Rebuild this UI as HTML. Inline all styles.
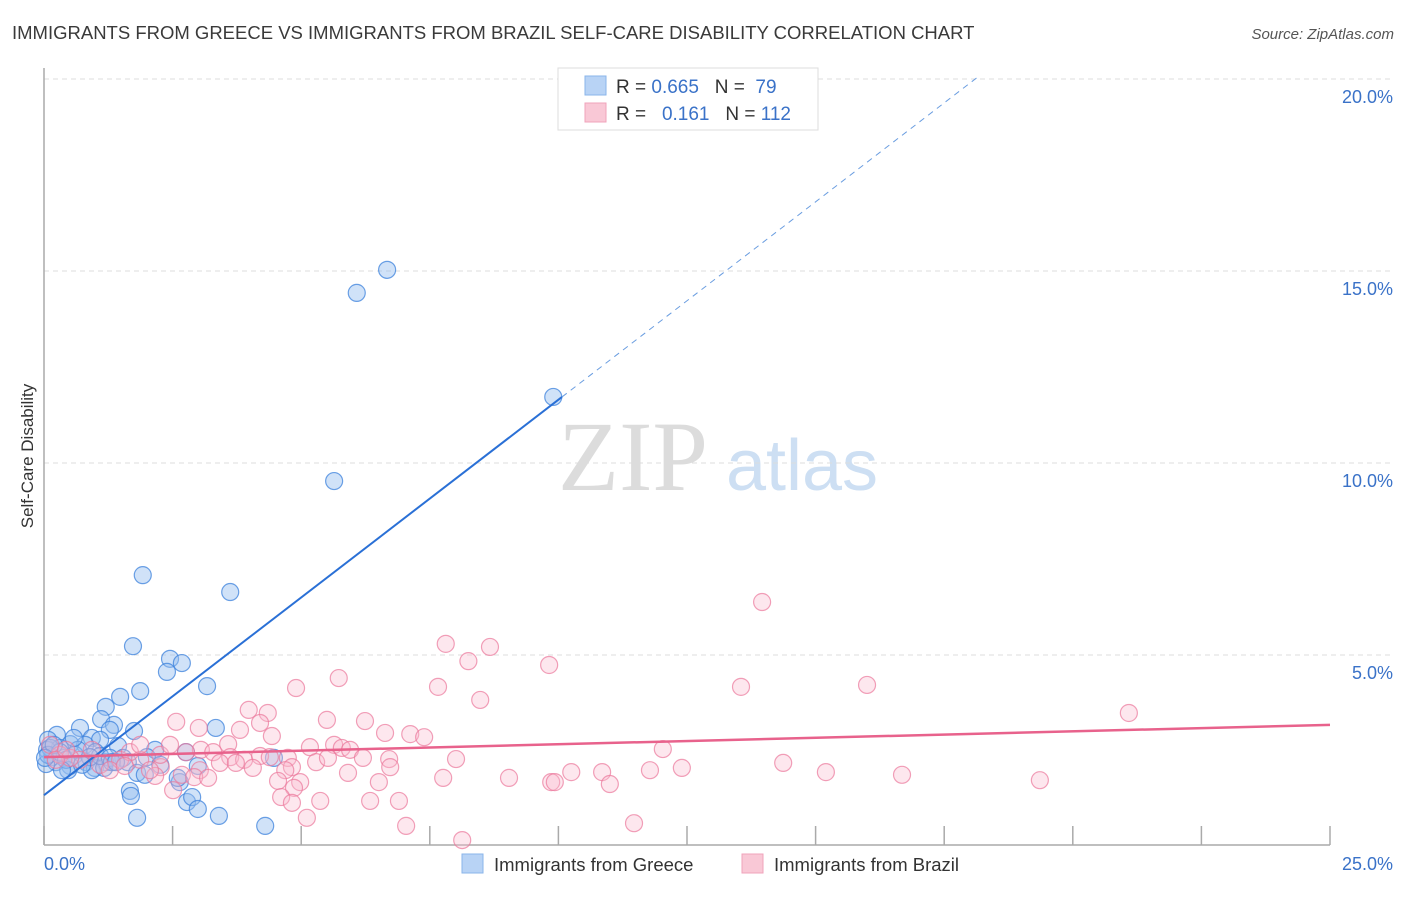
<!DOCTYPE html>
<html><head><meta charset="utf-8"><style>
body{margin:0;background:#fff;width:1406px;height:892px;overflow:hidden;font-family:"Liberation Sans",sans-serif}
</style></head><body>
<svg id="chart" width="1406" height="892" xmlns="http://www.w3.org/2000/svg" font-family="Liberation Sans, sans-serif">
<text x="12" y="39" font-size="18.5" fill="#3a3a3a">IMMIGRANTS FROM GREECE VS IMMIGRANTS FROM BRAZIL SELF-CARE DISABILITY CORRELATION CHART</text>
<text x="1394" y="39" font-size="15" fill="#555" font-style="italic" text-anchor="end">Source: ZipAtlas.com</text>
<g>
<text x="633" y="490" font-size="100" fill="#dcdcdc" font-family="Liberation Serif, serif" text-anchor="middle">ZIP</text>
<text x="802" y="490" font-size="72" fill="#cddff3" text-anchor="middle">atlas</text>
</g>
<text transform="translate(33,456) rotate(-90)" font-size="17" fill="#333" text-anchor="middle">Self-Care Disability</text>
<g id="grid"></g><g id="axes"></g><g id="pts"></g><g id="lines"></g>
<g>
<rect x="558" y="68" width="260" height="62" fill="#fff" stroke="#ddd"/>
<rect x="585" y="76" width="21" height="19" fill="#b8d3f5" stroke="#8ab4ea"/>
<rect x="585" y="103" width="21" height="19" fill="#f9c8d6" stroke="#f0a3bb"/>
<text x="616" y="93" font-size="19" fill="#333" xml:space="preserve">R = <tspan fill="#3a72c8">0.665</tspan>   N =  <tspan fill="#3a72c8">79</tspan></text>
<text x="616" y="120" font-size="19" fill="#333" xml:space="preserve">R =   <tspan fill="#3a72c8">0.161</tspan>   N = <tspan fill="#3a72c8">112</tspan></text>
</g>
<g>
<rect x="462" y="854" width="21" height="19" fill="#b8d3f5" stroke="#8ab4ea"/>
<text x="494" y="871" font-size="18.5" fill="#333">Immigrants from Greece</text>
<rect x="742" y="854" width="21" height="19" fill="#f9c8d6" stroke="#f0a3bb"/>
<text x="774" y="871" font-size="18.5" fill="#333">Immigrants from Brazil</text>
</g>
</svg>
<script>
const yTicks=[5,10,15,20];
const yTickLabels=["5.0%","10.0%","15.0%","20.0%"];
const xTicks=[0,2.5,5,7.5,10,12.5,15,17.5,20,22.5,25];
const xEndLabels=["0.0%","25.0%"];
const greeceX=[6.67,6.08,9.9,5.64,1.92,3.62,1.73,2.45,2.68,2.39,1.87,3.17,1.48,1.2,1.11,1.36,0.7,1.28,1.75,0.25,0.93,1.09,0.08,0.51,0.8,1.44,0.31,0.06,1.0,2.16,3.34,2.76,0.6,0.16,0.39,1.54,4.47,2.0,0.23,0.82,1.19,1.63,0.04,2.26,2.99,0.51,0.99,0.47,0.93,1.17,1.81,1.96,2.64,2.6,1.67,1.69,2.78,2.88,2.99,1.81,3.4,4.3,0.12,0.08,0.31,0.43,0.66,0.19,1.09,1.28,0.89,0.35,0.02,0.74,1.32,1.4,0.58];
const greeceY=[15.03,14.43,11.72,9.53,7.08,6.64,5.23,4.9,4.79,4.56,4.06,4.19,3.91,3.65,3.33,3.18,3.1,3.05,3.02,2.92,2.84,2.79,2.79,2.68,2.66,2.63,2.58,2.53,2.47,2.53,3.1,2.47,2.4,2.34,2.32,2.32,2.32,2.34,2.21,2.21,2.21,2.21,2.16,2.14,2.11,2.11,2.06,2.0,2.0,2.06,1.93,1.88,1.69,1.8,1.46,1.33,1.17,1.3,0.99,0.76,0.81,0.55,2.58,2.4,2.47,2.27,2.53,2.66,2.37,2.32,2.34,2.0,2.32,2.14,2.21,2.21,2.84];
const brazilX=[13.96,7.81,8.67,8.25,9.82,16.0,13.55,4.9,7.66,5.73,8.48,21.09,3.98,4.35,2.57,5.5,6.24,4.2,3.01,6.63,7.12,7.39,4.43,3.81,3.58,5.17,5.64,5.79,5.95,12.03,3.05,3.29,2.76,3.62,3.89,4.2,4.39,4.74,5.29,5.52,6.2,6.71,8.01,14.37,3.42,3.73,4.82,6.73,12.4,11.78,3.03,2.27,4.06,4.69,5.91,10.25,10.85,15.2,16.68,2.68,2.92,3.19,7.76,9.04,19.36,6.51,9.86,9.93,11.0,4.98,4.55,4.86,2.51,4.61,4.82,5.37,6.34,6.9,5.11,7.04,11.47,8.13,2.16,1.87,1.48,1.09,0.7,0.31,0.12,0.51,0.93,1.67,1.87,2.06,2.26,0.23,1.28,2.45,1.57,0.43];
const brazilY=[6.38,5.29,5.21,4.84,4.74,4.22,4.17,4.14,4.17,4.4,3.83,3.49,3.57,3.49,3.26,3.31,3.28,3.23,3.1,2.97,2.94,2.86,2.89,3.05,2.68,2.6,2.66,2.58,2.53,2.55,2.53,2.47,2.47,2.34,2.27,2.37,2.34,2.32,2.21,2.32,2.32,2.29,2.29,2.19,2.19,2.19,2.08,2.08,2.06,2.0,2.0,2.08,2.06,2.0,1.93,1.95,1.95,1.95,1.88,1.88,1.82,1.8,1.8,1.8,1.74,1.69,1.69,1.69,1.64,1.69,1.72,1.54,1.48,1.3,1.15,1.2,1.2,1.2,0.76,0.55,0.62,0.18,1.85,2.27,2.27,2.14,2.27,2.4,2.66,2.32,2.53,2.47,2.66,2.0,2.4,2.27,2.0,2.66,2.11,2.53];
const greeceTrend=[0,1.35,10.07,11.72,18.2,20.1];
const brazilTrend=[0,2.34,25,3.18];
const NS="http://www.w3.org/2000/svg";
const X0=44,X1=1330,Y0=847,PY=38.4;
const sx=v=>X0+(X1-X0)*v/25, sy=v=>Y0-v*PY;
function mk(t,a,p){const e=document.createElementNS(NS,t);for(const k in a)e.setAttribute(k,a[k]);document.getElementById(p).appendChild(e);return e;}
yTicks.forEach((t,i)=>{
 const g=mk('line',{x1:X0,x2:1393,y1:sy(t),y2:sy(t),stroke:'#dcdcdc','stroke-dasharray':'5,4'},'grid');
 
 
 const l=mk('text',{x:1393,y:sy(t)+24,'font-size':18,fill:'#3a72c8','text-anchor':'end'},'axes');
 l.textContent=yTickLabels[i];
 
 
});
const ya=mk('line',{x1:X0,x2:X0,y1:68,y2:845,stroke:'#aaa','stroke-width':1.5},'axes');


const xa=mk('line',{x1:X0,x2:X1,y1:845,y2:845,stroke:'#aaa','stroke-width':1.5},'axes');


xTicks.forEach(t=>{
 const k=mk('line',{x1:sx(t),x2:sx(t),y1:826,y2:845,stroke:'#aaa','stroke-width':1.5},'axes');
 
 
});
const xl0=mk('text',{x:44,y:870,'font-size':18,fill:'#3a72c8'},'axes');xl0.textContent=xEndLabels[0];


const xl1=mk('text',{x:1393,y:870,'font-size':18,fill:'#3a72c8','text-anchor':'end'},'axes');xl1.textContent=xEndLabels[1];


greeceX.forEach((v,i)=>{
 const c=mk('circle',{cx:sx(v),cy:sy(greeceY[i]),r:8.5,fill:'rgba(150,190,240,0.45)',stroke:'rgba(60,130,220,0.75)','stroke-width':1.2},'pts');
 
 
});
brazilX.forEach((v,i)=>{
 const c=mk('circle',{cx:sx(v),cy:sy(brazilY[i]),r:8.5,fill:'rgba(248,185,205,0.35)',stroke:'rgba(235,120,155,0.7)','stroke-width':1.2},'pts');
 
 
});
const g1=mk('line',{x1:sx(greeceTrend[0]),y1:sy(greeceTrend[1]),x2:sx(greeceTrend[2]),y2:sy(greeceTrend[3]),stroke:'#2a70d6','stroke-width':2},'lines');


const g2=mk('line',{x1:sx(greeceTrend[2]),y1:sy(greeceTrend[3]),x2:sx(greeceTrend[4]),y2:sy(greeceTrend[5]),stroke:'#6a9de0','stroke-width':1,'stroke-dasharray':'6,5'},'lines');


const b1=mk('line',{x1:sx(brazilTrend[0]),y1:sy(brazilTrend[1]),x2:sx(brazilTrend[2]),y2:sy(brazilTrend[3]),stroke:'#e8628c','stroke-width':2.5},'lines');


</script>
</body></html>
